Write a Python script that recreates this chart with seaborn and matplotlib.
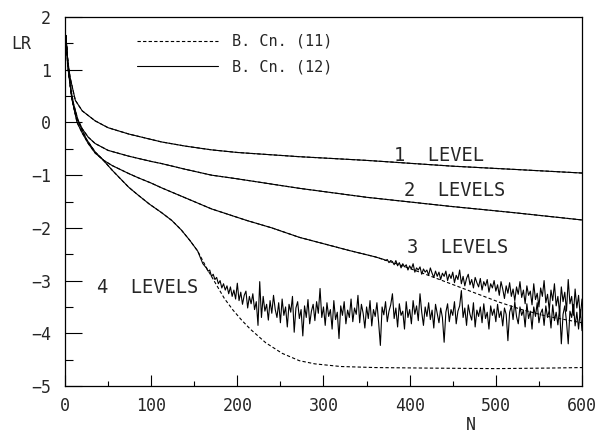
import matplotlib
matplotlib.use("Agg")
import matplotlib.pyplot as plt
import seaborn as sns
import numpy as np
from matplotlib.ticker import MultipleLocator

# curves (N, log residual)
n_l1 = [1, 3, 6, 12, 20, 35, 50, 74, 112, 140, 170, 200, 272, 350, 450, 520, 600]
lr_l1 = [1.65, 1.2, 0.85, 0.42, 0.22, 0.03, -0.1, -0.22, -0.37, -0.45, -0.52, -0.57,
         -0.65, -0.72, -0.83, -0.89, -0.96]

n_l2 = [1, 3, 6, 10, 15, 20, 27, 35, 50, 74, 100, 112, 140, 170, 200, 272, 350, 446,
        520, 600]
lr_l2 = [1.65, 1.1, 0.7, 0.35, 0.05, -0.12, -0.28, -0.4, -0.53, -0.64, -0.74, -0.78,
         -0.89, -1.0, -1.07, -1.25, -1.42, -1.59, -1.71, -1.85]

# 3 levels: common part, then the two schemes split
n_l3 = [1, 4, 8, 14, 20, 27, 35, 45, 55, 74, 85, 100, 112, 141, 170, 211, 240, 272,
        300, 330, 360]
lr_l3 = [1.65, 1.0, 0.45, 0.0, -0.2, -0.4, -0.58, -0.72, -0.82, -0.97, -1.05, -1.15,
         -1.24, -1.44, -1.64, -1.86, -2.0, -2.18, -2.3, -2.43, -2.55]
n_l3_dash = [390, 420, 446, 475, 504, 530, 560, 600]
lr_l3_dash = [-2.71, -2.89, -3.05, -3.23, -3.41, -3.55, -3.68, -3.8]
n_l3_noisy = np.arange(370, 601, 2)
lr_l3_noisy = [-2.60, -2.62, -2.60, -2.66, -2.62,
    -2.64, -2.70, -2.62, -2.72, -2.66, -2.76, -2.68, -2.74, -2.70, -2.80,
    -2.72, -2.78, -2.68, -2.84, -2.76, -2.80, -2.74, -2.88, -2.78, -2.84,
    -2.80, -2.90, -2.76, -2.86, -2.94, -2.82, -2.92, -2.84, -2.98, -2.86,
    -2.92, -2.82, -3.00, -2.88, -2.96, -2.84, -3.04, -2.90, -2.98, -2.80,
    -3.06, -2.92, -3.10, -2.96, -2.88, -3.08, -2.98, -3.14, -2.94, -3.04,
    -3.12, -2.96, -3.18, -3.02, -3.10, -2.98, -3.22, -3.06, -3.14, -3.00,
    -3.20, -3.08, -3.28, -3.02, -3.16, -3.34, -3.10, -3.24, -3.04, -3.30,
    -3.16, -3.38, -3.12, -3.26, -3.02, -3.32, -3.18, -3.44, -3.10, -3.28,
    -3.20, -3.46, -3.06, -3.36, -3.24, -3.50, -3.14, -3.30, -3.00, -3.42,
    -3.26, -3.56, -3.18, -3.38, -3.06, -3.48, -3.30, -3.62, -3.12, -3.40,
    -3.22, -3.58, -2.98, -3.44, -3.30, -3.66, -3.16, -3.52, -3.28, -3.70,
    -3.35]

# 4 levels
n_l4 = [1, 4, 8, 13, 18, 25, 35, 43, 55, 65, 74, 85, 98, 112, 124, 135, 145, 154]
lr_l4 = [1.65, 1.0, 0.45, 0.1, -0.08, -0.32, -0.56, -0.69, -0.91, -1.08, -1.23, -1.38,
         -1.55, -1.71, -1.86, -2.04, -2.24, -2.44]
n_l4_dash = [165, 175, 185, 195, 205, 215, 233, 252, 272, 290, 320, 360, 420, 500,
             560, 600]
lr_l4_dash = [-2.78, -3.06, -3.34, -3.56, -3.75, -3.92, -4.18, -4.38, -4.52, -4.58,
              -4.63, -4.65, -4.66, -4.67, -4.66, -4.65]
n_l4_noisy = np.arange(156, 601, 2)
lr_l4_noisy = [
    -2.52, -2.60, -2.68, -2.72, -2.76, -2.82, -2.80, -2.92, -2.88, -2.98, -2.94, -3.06,
    -3.00, -3.14, -3.06, -3.18, -3.10, -3.25, -3.12, -3.30, -3.18, -3.35,
    -3.05, -3.38, -3.22, -3.45, -3.28, -3.20, -3.52, -3.30, -3.44, -3.25,
    -3.55, -3.40, -3.85, -3.02, -3.70, -3.30, -3.58, -3.45, -3.75, -3.38,
    -3.62, -3.28, -3.55, -3.70, -3.42, -3.80, -3.35, -3.66, -3.50, -3.88,
    -3.45, -3.60, -3.30, -3.98, -3.52, -3.40, -3.72, -3.55, -4.05, -3.48,
    -3.70, -3.36, -3.82, -3.58, -3.45, -3.76, -3.40, -3.62, -3.15, -3.70,
    -3.50, -3.85, -3.42, -3.68, -3.55, -3.92, -3.38, -3.74, -3.60, -4.10,
    -3.48, -3.66, -3.40, -3.82, -3.56, -3.70, -3.35, -3.78, -3.52, -3.64,
    -3.28, -3.80, -3.45, -3.62, -3.90, -3.50, -3.72, -3.38, -3.86, -3.55,
    -3.68, -3.42, -3.80, -4.23, -3.50, -3.65, -3.40, -3.78, -3.58, -3.46,
    -3.25, -3.72, -3.52, -3.88, -3.44, -3.66, -3.58, -3.92, -3.40, -3.70,
    -3.55, -3.82, -3.38, -3.64, -3.48, -3.76, -3.25, -3.60, -3.85, -3.50,
    -3.68, -3.42, -3.74, -3.56, -3.90, -3.45, -3.62, -3.80, -3.52, -3.70,
    -4.17, -3.60, -3.44, -3.78, -3.55, -3.66, -3.40, -3.82, -3.58, -3.48,
    -3.19, -3.70, -3.52, -3.85, -3.46, -3.64, -3.75, -3.42, -3.88, -3.56,
    -3.68, -3.50, -3.80, -3.44, -3.72, -3.60, -3.92, -3.48, -3.66, -3.54,
    -3.78, -3.45, -3.70, -3.58, -3.86, -3.52, -3.64, -4.14, -3.60, -3.48,
    -3.74, -3.40, -3.68, -3.82, -3.50, -3.66, -3.56, -3.88, -3.44, -3.72,
    -3.58, -3.92, -3.50, -3.68, -3.42, -3.80, -3.62, -3.54, -3.85, -3.48,
    -3.70, -3.56, -3.90, -3.46, -3.76, -3.60, -3.84, -3.52, -4.20, -3.64,
    -3.48, -3.78, -4.20, -3.58, -3.70, -3.45, -3.86, -3.60, -3.92, -3.55,
    -3.95]

level_labels = ["1  LEVEL", "2  LEVELS", "3  LEVELS", "4  LEVELS"]
legend_labels = ["B. Cn. (11)", "B. Cn. (12)"]

sns.set_style("white")
plt.rcParams["font.family"] = ["DejaVu Sans Mono", "DejaVu Sans"]

fig = plt.figure(figsize=(6.05, 4.38), dpi=100)
ax = fig.add_axes([0.1074, 0.1187, 0.8546, 0.8425])

dash = (0, (3, 2))
lw = 0.8
kw = dict(ax=ax, color="black", linewidth=lw, estimator=None, sort=False)

# B. Cn. (11) - dashed
h11 = sns.lineplot(x=n_l1, y=lr_l1, linestyle=dash, **kw).lines[-1]
sns.lineplot(x=n_l2, y=lr_l2, linestyle=dash, **kw)
sns.lineplot(x=n_l3 + n_l3_dash, y=lr_l3 + lr_l3_dash, linestyle=dash, **kw)
sns.lineplot(x=n_l4 + n_l4_dash, y=lr_l4 + lr_l4_dash, linestyle=dash, **kw)

# B. Cn. (12) - solid
h12 = sns.lineplot(x=n_l1, y=lr_l1, **kw).lines[-1]
sns.lineplot(x=n_l2, y=lr_l2, **kw)
sns.lineplot(x=n_l3 + list(n_l3_noisy), y=lr_l3 + lr_l3_noisy, **kw)
sns.lineplot(x=n_l4 + list(n_l4_noisy), y=lr_l4 + lr_l4_noisy, **kw)

ax.set_xlim(0, 600)
ax.set_ylim(-5, 2)
ax.xaxis.set_major_locator(MultipleLocator(100))
ax.xaxis.set_minor_locator(MultipleLocator(50))
ax.yaxis.set_major_locator(MultipleLocator(1))
ax.yaxis.set_minor_locator(MultipleLocator(0.5))
ax.tick_params(which="both", bottom=True, left=True, top=False, right=False,
               color="black")
ax.tick_params(axis="y", which="major", direction="in", length=12, width=0.8,
               pad=10, labelsize=12)
ax.tick_params(axis="y", which="minor", direction="in", length=6, width=0.8)
ax.tick_params(axis="x", which="major", direction="in", length=8, width=0.8,
               pad=8, labelsize=12)
ax.tick_params(axis="x", which="minor", direction="in", length=3.5, width=0.8)
ax.set_xlabel("")
ax.set_ylabel("")
for s in ax.spines.values():
    s.set_linewidth(0.9)
    s.set_color("black")

ax.text(-0.085, 0.927, "LR", transform=ax.transAxes, ha="center", va="center",
        fontsize=12)
ax.text(0.785, -0.106, "N", transform=ax.transAxes, ha="center", va="center",
        fontsize=12)

ax.text(382, -0.63, level_labels[0], fontsize=13.5, va="center")
ax.text(394, -1.29, level_labels[1], fontsize=13.5, va="center")
ax.text(397, -2.37, level_labels[2], fontsize=13.5, va="center")
ax.text(37, -3.13, level_labels[3], fontsize=13.5, va="center")

ax.legend(handles=[h11, h12], labels=legend_labels, loc="upper left",
          bbox_to_anchor=(0.139, 0.954), frameon=False, fontsize=11,
          handlelength=5.3, handletextpad=0.9, labelspacing=0.7,
          borderpad=0, borderaxespad=0)

fig.savefig("out.png", dpi=100)
